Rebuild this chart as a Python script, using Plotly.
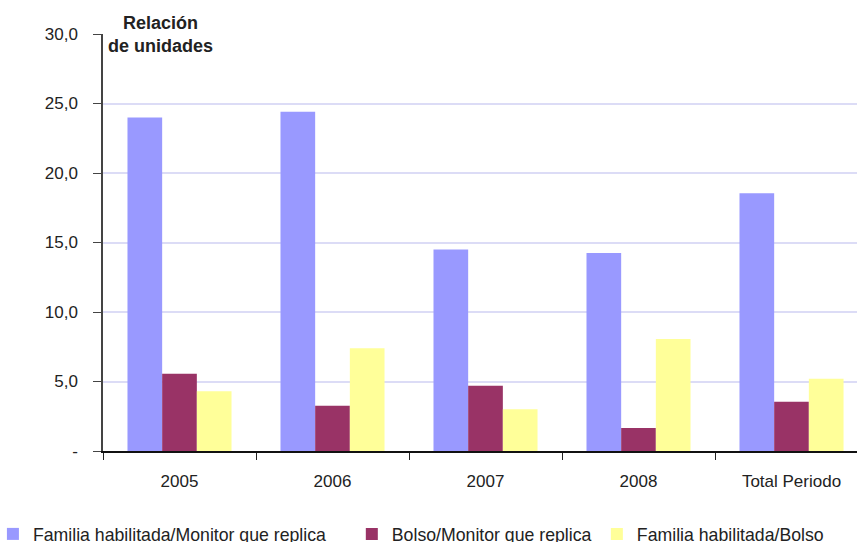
import plotly.graph_objects as go

# Relación de unidades por año
categorias = ["2005", "2006", "2007", "2008", "Total Periodo"]
familia_monitor = [24.0, 24.4, 14.5, 14.25, 18.55]
bolso_monitor = [5.55, 3.25, 4.7, 1.65, 3.55]
familia_bolso = [4.3, 7.4, 3.0, 8.05, 5.2]

series = [
    ("Familia habilitada/Monitor que replica", familia_monitor, "#9999FF", "legend", -0.146),
    ("Bolso/Monitor que replica", bolso_monitor, "#993366", "legend2", 0.330),
    ("Familia habilitada/Bolso", familia_bolso, "#FFFF99", "legend3", 0.655),
]

y_ticks = [0, 5, 10, 15, 20, 25, 30]
y_labels = ["-", "5,0", "10,0", "15,0", "20,0", "25,0", "30,0"]

FONT = "Liberation Sans, Arial, sans-serif"
TXT = "#222222"

fig = go.Figure()
for nombre, valores, color, ley, _ in series:
    fig.add_trace(go.Bar(
        x=categorias, y=valores, name=nombre,
        marker=dict(color=color, line=dict(width=0)),
        legend=ley,
    ))

legend_common = dict(
    orientation="h", yanchor="middle", y=-0.2, xanchor="left",
    font=dict(family=FONT, size=17.7, color=TXT),
    bgcolor="rgba(0,0,0,0)", borderwidth=0,
)
layout_legends = {}
for _, _, _, ley, lx in series:
    layout_legends[ley] = dict(legend_common, x=lx)

fig.update_layout(
    width=857, height=542,
    margin=dict(l=103, r=0, t=34, b=91, autoexpand=False),
    paper_bgcolor="white", plot_bgcolor="white",
    barmode="group", bargap=0.32, bargroupgap=0,
    showlegend=True,
    font=dict(family=FONT, size=17, color=TXT),
    xaxis=dict(
        type="category", range=[-0.5, 4.428],
        tickson="boundaries", ticks="outside", ticklen=7, tickwidth=1,
        tickcolor="#222222", showline=True, linecolor="#111111", linewidth=1.5,
        showgrid=False, ticklabelstandoff=14,
        tickfont=dict(family=FONT, size=17, color=TXT),
    ),
    yaxis=dict(
        range=[0, 30], tickvals=y_ticks, ticktext=y_labels,
        ticks="outside", ticklen=8, tickwidth=1, tickcolor="#444444",
        showline=True, linecolor="#444444", linewidth=1.5,
        showgrid=True, gridcolor="#dcdcf6", gridwidth=1.5,
        zeroline=False, ticklabelstandoff=12,
        tickfont=dict(family=FONT, size=17, color=TXT),
    ),
    annotations=[dict(
        text="<b>Relación<br>de unidades</b>", xref="paper", yref="paper",
        x=0.0756, y=1.0, xanchor="center", yanchor="middle", showarrow=False,
        align="center", font=dict(family=FONT, size=18, color=TXT),
    )],
    **layout_legends,
)

fig.write_html("out.html")
